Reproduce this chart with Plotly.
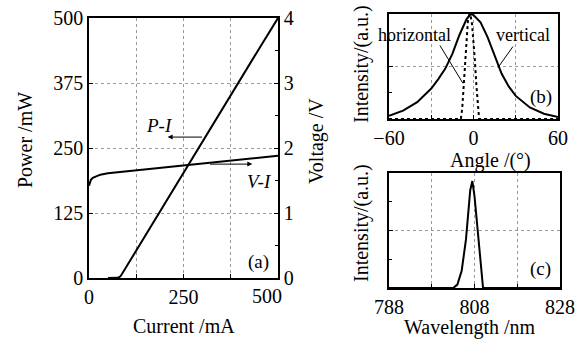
import plotly.graph_objects as go

# ---- data (a) ----
pi_current = [50, 70, 76, 80, 84, 90, 100, 150, 200, 250, 300, 350, 400, 450, 500]
pi_power = [0, 0, 0.3, 1.5, 4, 11, 23, 83, 143, 202, 262, 321, 381, 441, 500]
vi_current = [0, 2, 5, 10, 20, 30, 50, 75, 100, 150, 200, 250, 300, 350, 400, 450, 500]
vi_voltage = [1.42, 1.47, 1.51, 1.54, 1.57, 1.59, 1.61, 1.625, 1.64, 1.67, 1.70, 1.73, 1.76, 1.79, 1.82, 1.85, 1.88]

# ---- data (b) ----
angle_v = [-60, -50, -40, -30, -25, -20, -15, -10, -5, -2, 0, 5, 10, 15, 20, 25, 30, 40, 50, 60]
int_vertical = [0.03, 0.08, 0.16, 0.29, 0.38, 0.48, 0.62, 0.80, 0.95, 1.0, 0.99, 0.92, 0.78, 0.6, 0.43, 0.31, 0.22, 0.11, 0.05, 0.02]
angle_h = [-60, -9, -8, -7, -6, -5, -4, -3, -2, -1, 0, 1, 2, 3, 4, 60]
int_horizontal = [0, 0, 0.1, 0.3, 0.55, 0.78, 0.93, 1.0, 0.98, 0.9, 0.75, 0.55, 0.33, 0.12, 0, 0]

# ---- data (c) ----
wavelength = [788, 803, 804, 805, 806, 806.5, 807, 807.5, 808, 808.5, 809, 809.5, 810, 828]
int_spectrum = [0, 0, 0.03, 0.15, 0.42, 0.62, 0.85, 0.93, 0.8, 0.6, 0.38, 0.15, 0.0, 0]

# tick labels
xa_ticks = [0, 125, 250, 375, 500]
xa_text = ["0", "", "250", "", ""]
xa_last_label = "500"
ya_ticks = [0, 125, 250, 375, 500]
y2_ticks = [0, 1, 2, 3, 4]
xb_ticks = [-60, -30, 0, 30, 60]
xb_text = ["\u221260", "", "0", "", "60"]
xc_ticks = [788, 798, 808, 818, 828]
xc_text = ["788", "", "808", "", "828"]

W, H = 588, 340
FONT = "Liberation Serif"

def px(x):
    return x / W

def py(y):
    return 1 - y / H

fig = go.Figure()
line = dict(color="black", width=2)
fig.add_trace(go.Scatter(x=pi_current, y=pi_power, mode="lines", line=line, xaxis="x", yaxis="y"))
fig.add_trace(go.Scatter(x=vi_current, y=vi_voltage, mode="lines", line=line, xaxis="x", yaxis="y2"))
fig.add_trace(go.Scatter(x=angle_v, y=int_vertical, mode="lines", line=line, xaxis="x2", yaxis="y3"))
fig.add_trace(go.Scatter(x=angle_h, y=int_horizontal, mode="lines",
                         line=dict(color="black", width=2, dash="dot"), xaxis="x2", yaxis="y3"))
fig.add_trace(go.Scatter(x=wavelength, y=int_spectrum, mode="lines", line=line, xaxis="x3", yaxis="y4"))

common = dict(showline=True, linecolor="black", linewidth=1.5, mirror=True,
              ticks="inside", ticklen=4, tickcolor="black", zeroline=False, automargin=False,
              gridcolor="#9a9a9a", griddash="dot", gridwidth=1,
              tickfont=dict(family=FONT, size=20, color="black"))

fig.update_layout(
    template="none",
    width=W, height=H, margin=dict(l=0, r=0, t=0, b=0, pad=0), autosize=False,
    paper_bgcolor="white", plot_bgcolor="white", showlegend=False,
    font=dict(family=FONT, size=20, color="black"),
    xaxis=dict(domain=[px(89), px(278)], range=[0, 500], anchor="y",
               tickmode="array", tickvals=xa_ticks, ticktext=xa_text, showgrid=True, **common),
    yaxis=dict(domain=[py(278), py(18)], range=[0, 500], anchor="x",
               tickmode="array", tickvals=ya_ticks, showgrid=True, **common),
    yaxis2=dict(overlaying="y", side="right", anchor="x", range=[0, 4], automargin=False,
                tickmode="array", tickvals=y2_ticks, showgrid=False,
                showline=True, linecolor="black", linewidth=1.5, ticks="inside", ticklen=4,
                tickcolor="black", zeroline=False,
                minor=dict(dtick=0.5, ticks="inside", ticklen=3, tickcolor="black", showgrid=False),
                tickfont=dict(family=FONT, size=20, color="black")),
    xaxis2=dict(domain=[px(389), px(558)], range=[-60, 60], anchor="y3",
                tickmode="array", tickvals=xb_ticks, ticktext=xb_text, showgrid=True, **common),
    yaxis3=dict(domain=[py(119), py(14)], range=[0, 1], anchor="x2",
                tickmode="array", tickvals=[0, 0.5, 1], showticklabels=False, showgrid=True,
                minor=dict(tickvals=[0.25, 0.75], ticks="inside", ticklen=3, tickcolor="black", showgrid=False),
                **common),
    xaxis3=dict(domain=[px(389), px(560)], range=[788, 828], anchor="y4",
                tickmode="array", tickvals=xc_ticks, ticktext=xc_text, showgrid=True, **common),
    yaxis4=dict(domain=[py(288), py(173)], range=[0, 1], anchor="x3",
                tickmode="array", tickvals=[0, 0.5, 1], showticklabels=False, showgrid=True,
                minor=dict(tickvals=[0.25, 0.75], ticks="inside", ticklen=3, tickcolor="black", showgrid=False),
                **common),
)

def text(t, x, y, size=20, angle=0, italic=False):
    fig.add_annotation(text=t, x=px(x), y=py(y), xref="paper", yref="paper",
                       showarrow=False, textangle=angle, xanchor="center", yanchor="middle",
                       font=dict(family=FONT, size=size, color="black",
                                 style="italic" if italic else "normal"))

# last x tick label of (a), nudged left as in the reference so it clears the right-axis "0"
text(xa_last_label, 267, 296)

# axis titles
text("Power /mW", 25, 140, angle=-90)
text("Voltage /V", 316, 141, angle=-90)
text("Current /mA", 184, 326)
text("Intensity/(a.u.)", 361, 64, angle=-90)
text("Angle /(°)", 490, 160)
text("Intensity/(a.u.)", 361, 223, angle=-90)
text("Wavelength /nm", 470, 327)

# panel labels
text("(a)", 258, 262, size=19)
text("(b)", 541, 97, size=19)
text("(c)", 540, 269, size=19)

# P-I / V-I labels and arrows
text("P-I", 159, 125, size=19, italic=True)
text("V-I", 259, 181, size=19, italic=True)
fig.add_annotation(x=208, y=271, ax=303, ay=271, xref="x", yref="y", axref="x", ayref="y",
                   text="", showarrow=True, arrowhead=2, arrowsize=1, arrowwidth=1, arrowcolor="black")
fig.add_annotation(x=432, y=219, ax=316, ay=219, xref="x", yref="y", axref="x", ayref="y",
                   text="", showarrow=True, arrowhead=2, arrowsize=1, arrowwidth=1, arrowcolor="black")

# (b) labels with leader lines
text("horizontal", 415, 35, size=18)
text("vertical", 523, 35, size=18)
fig.add_shape(type="line", xref="x2", yref="y3", x0=-23.8, y0=0.70, x1=-7.5, y1=0.34,
              line=dict(color="black", width=1))
fig.add_shape(type="line", xref="x2", yref="y3", x0=28, y0=0.69, x1=17.4, y1=0.49,
              line=dict(color="black", width=1))

fig.write_html("out.html")
